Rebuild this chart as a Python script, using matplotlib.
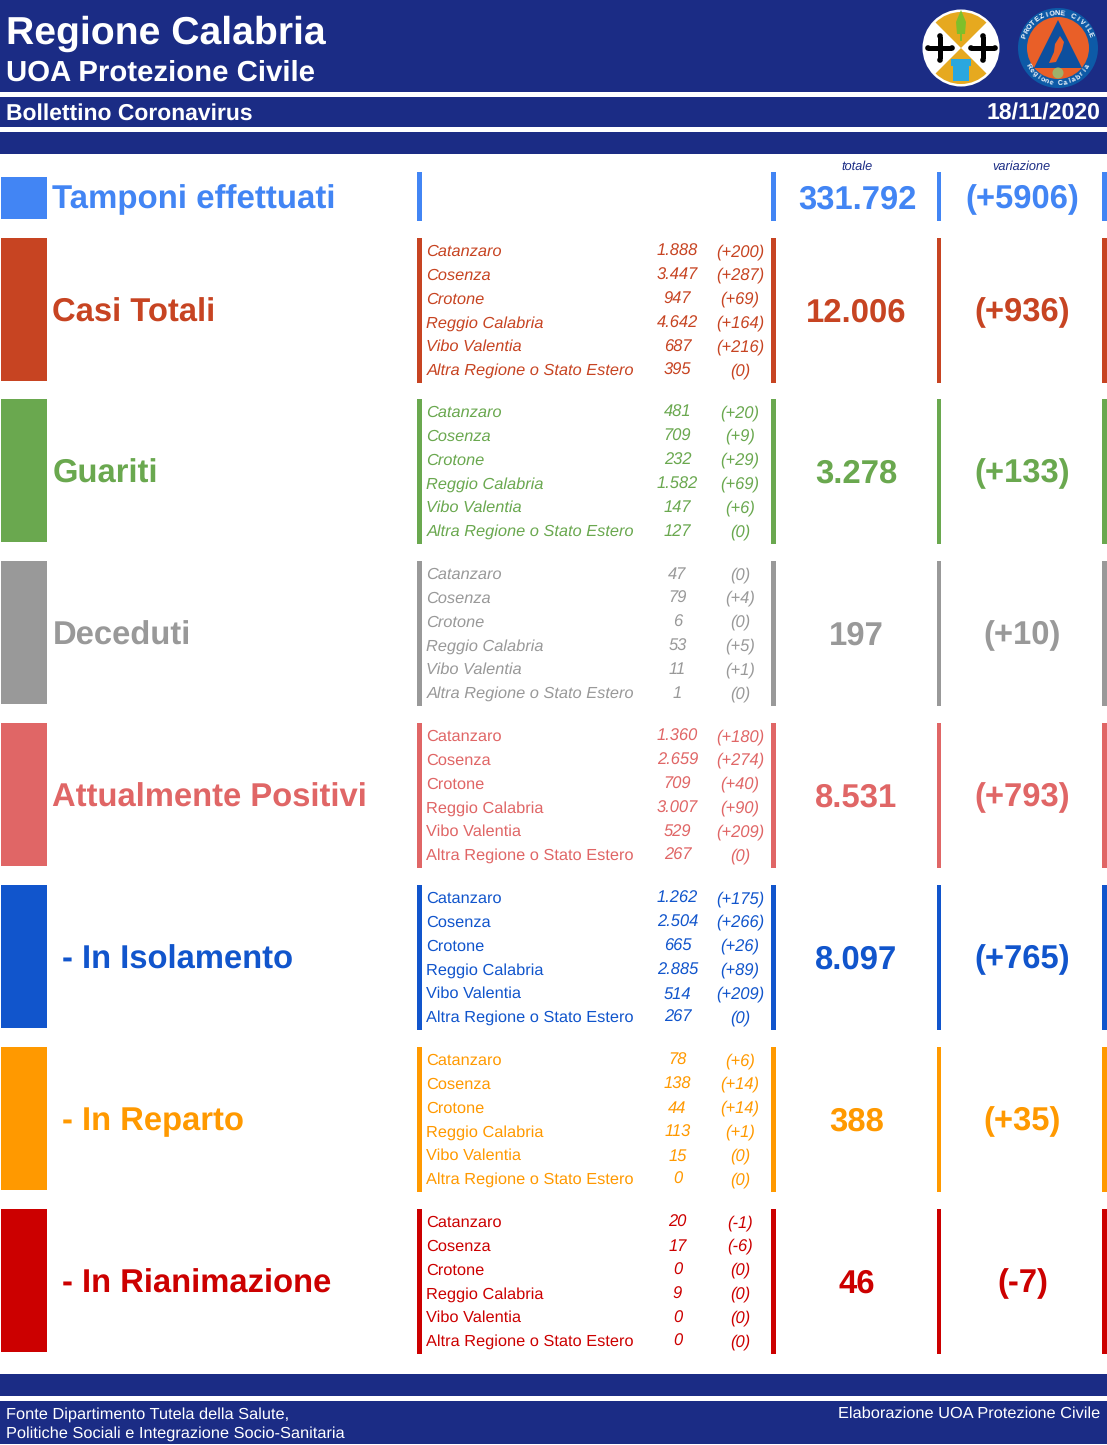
import math
import matplotlib
matplotlib.use("Agg")
import matplotlib.pyplot as plt
from matplotlib.patches import Rectangle, Circle, Wedge, Polygon

plt.rcParams['font.family'] = ['Liberation Sans', 'DejaVu Sans']
plt.rcParams['text.hinting'] = 'no_hinting'

NAVY = '#1b2c85'
provinces = ['Catanzaro', 'Cosenza', 'Crotone', 'Reggio Calabria', 'Vibo Valentia', 'Altra Regione o Stato Estero']
titles = ['Casi Totali', 'Guariti', 'Deceduti', 'Attualmente Positivi', ' - In Isolamento', ' - In Reparto', ' - In Rianimazione']
colors = ['#c74422', '#6aa84f', '#999999', '#e06666', '#1155cc', '#ff9900', '#cc0000']
totals = ['12.006', '3.278', '197', '8.531', '8.097', '388', '46']
changes = ['(+936)', '(+133)', '(+10)', '(+793)', '(+765)', '(+35)', '(-7)']
casi_tot = ['1.888', '3.447', '947', '4.642', '687', '395']
casi_var = ['(+200)', '(+287)', '(+69)', '(+164)', '(+216)', '(0)']
guariti_tot = ['481', '709', '232', '1.582', '147', '127']
guariti_var = ['(+20)', '(+9)', '(+29)', '(+69)', '(+6)', '(0)']
deceduti_tot = ['47', '79', '6', '53', '11', '1']
deceduti_var = ['(0)', '(+4)', '(0)', '(+5)', '(+1)', '(0)']
positivi_tot = ['1.360', '2.659', '709', '3.007', '529', '267']
positivi_var = ['(+180)', '(+274)', '(+40)', '(+90)', '(+209)', '(0)']
isolamento_tot = ['1.262', '2.504', '665', '2.885', '514', '267']
isolamento_var = ['(+175)', '(+266)', '(+26)', '(+89)', '(+209)', '(0)']
reparto_tot = ['78', '138', '44', '113', '15', '0']
reparto_var = ['(+6)', '(+14)', '(+14)', '(+1)', '(0)', '(0)']
rianimazione_tot = ['20', '17', '0', '9', '0', '0']
rianimazione_var = ['(-1)', '(-6)', '(0)', '(0)', '(0)', '(0)']
all_tot = [casi_tot, guariti_tot, deceduti_tot, positivi_tot, isolamento_tot, reparto_tot, rianimazione_tot]
all_var = [casi_var, guariti_var, deceduti_var, positivi_var, isolamento_var, reparto_var, rianimazione_var]
section_top = [238, 399, 561, 723, 885, 1047, 1209]
upright_names = [False, False, False, True, True, True, True]

fig = plt.figure(figsize=(11.07, 14.45), dpi=100, facecolor='white')
ax = fig.add_axes([0, 0, 1, 1])
ax.set_xlim(0, 1107)
ax.set_ylim(1445, 0)
ax.axis('off')

def rect(x0, y0, x1, y1, c, z=1):
    ax.add_patch(Rectangle((x0, y0), x1 - x0, y1 - y0, fc=c, ec='none', zorder=z))

def txt(x, y, s, size, c, w='normal', st='normal', ha='left'):
    ax.text(x, y + 0.36 * size * 100 / 72, s, fontsize=size, color=c, fontweight=w,
            fontstyle=st, ha=ha, va='baseline')

def arc_text(s, cx, cy, r, a0, a1, size, top=True):
    n = len(s)
    for i, ch in enumerate(s):
        a = a0 + (a1 - a0) * i / (n - 1)
        t = math.radians(a)
        rot = a - 90 if top else a + 90
        ax.text(cx + r * math.cos(t), cy - r * math.sin(t), ch, fontsize=size, color='white',
                fontweight='bold', rotation=rot, ha='center', va='center',
                rotation_mode='anchor', zorder=6)

for y0, y1 in [(0, 92), (97, 127), (132, 154), (1374, 1396), (1401, 1444)]:
    rect(0, y0, 1107, y1, NAVY)

txt(6.5, 30, 'Regione Calabria', 28.15, 'white', 'bold')
txt(6.5, 70.5, 'UOA Protezione Civile', 21.15, 'white', 'bold')
txt(6.5, 111.5, 'Bollettino Coronavirus', 16.45, 'white', 'bold')
txt(1100, 111.5, '18/11/2020', 16.6, 'white', 'bold', ha='right')
txt(6, 1413, 'Fonte Dipartimento Tutela della Salute,', 11.8, 'white')
txt(6, 1432, 'Politiche Sociali e Integrazione Socio-Sanitaria', 11.8, 'white')
txt(1100, 1412, 'Elaborazione UOA Protezione Civile', 11.82, 'white', ha='right')

# Regional emblem
cx, cy = 961, 48
ax.add_patch(Circle((cx, cy), 38.5, fc='white', ec='none', zorder=2))
ax.add_patch(Wedge((cx, cy), 36, 225, 315, fc='#e6a91f', ec='none', zorder=3))
ax.add_patch(Wedge((cx, cy), 36, 45, 135, fc='#e6a91f', ec='none', zorder=3))
for c0 in (940, 983):
    rect(c0 - 2.5, cy - 11, c0 + 2.5, cy + 11, 'black', 4)
    rect(c0 - 12, cy - 2.5, c0 + 12, cy + 2.5, 'black', 4)
    for dx, dy in [(-12, 0), (12, 0), (0, -12), (0, 12)]:
        ax.add_patch(Circle((c0 + dx, cy + dy), 2.8, fc='black', ec='none', zorder=4))
rect(953, 66, 969, 81, '#2aa7df', 4)
rect(951, 59, 971, 66, '#2aa7df', 4)
ax.add_patch(Polygon([(961, 10), (966, 22), (965, 34), (957, 34), (956, 22)], fc='#7fbf2a', ec='none', zorder=4))
rect(960, 33, 962, 41, '#7fbf2a', 4)

# Civil protection emblem
cx, cy = 1058, 48
ax.add_patch(Circle((cx, cy), 40, fc='#0d5aa7', ec='none', zorder=2))
ax.add_patch(Circle((cx, cy), 31, fc='#e95f28', ec='none', zorder=3))
ax.add_patch(Polygon([(1058, 20), (1082, 68), (1034, 68)], fc='#0d4f9e', ec='none', zorder=4))
ax.add_patch(Polygon([(1060, 36), (1064, 42), (1062, 50), (1056, 62), (1049, 63), (1054, 52), (1055, 44)], fc='#e95f28', ec='none', zorder=5))
ax.add_patch(Circle((1058, 73), 5.5, fc='#9fb06a', ec='none', zorder=5))
arc_text('PROTEZIONE CIVILE', cx, cy, 35, 160, 22, 5.2, True)
arc_text('Regione Calabria', cx, cy, 35, 212, 328, 5, False)

# Tamponi row
BLUE = '#4285f4'
rect(1, 177, 47, 219, BLUE)
for x0, x1 in [(417, 422), (771, 776), (937, 941), (1102, 1107)]:
    rect(x0, 172, x1, 221, BLUE)
txt(52.5, 196.5, 'Tamponi effettuati', 23.75, BLUE, 'bold')
txt(857, 196.5, '331.792', 23.6, BLUE, 'bold', ha='center')
txt(1022.5, 196.5, '(+5906)', 23.6, BLUE, 'bold', ha='center')
txt(857.5, 165.5, 'totale', 9.2, NAVY, st='italic', ha='center')
txt(1021, 165.5, 'variazione', 9.2, NAVY, st='italic', ha='center')

for top, title, col, tot, chg, rt, rv, up in zip(section_top, titles, colors, totals, changes, all_tot, all_var, upright_names):
    rect(1, top, 47, top + 143, col)
    for x0, x1 in [(417, 422), (771, 776), (937, 941), (1102, 1107)]:
        rect(x0, top, x1, top + 145, col)
    tx = 62.5 if title.startswith(' ') else 52.5
    txt(tx, top + 71.5, title.strip(), 23.6, col, 'bold')
    txt(856.5, top + 71.5, tot, 23.7, col, 'bold', ha='center')
    txt(1022.5, top + 71.5, chg, 23.6, col, 'bold', ha='center')
    for i, (p, a, b) in enumerate(zip(provinces, rt, rv)):
        y = top + 12.2 + i * 23.8
        txt(426.5, y, p, 11.8, col, st='normal' if up else 'italic')
        txt(677.5, y, a, 11.9, col, st='italic', ha='center')
        txt(740, y, b, 11.9, col, st='italic', ha='center')

fig.savefig('out.png', dpi=100, facecolor='white')
